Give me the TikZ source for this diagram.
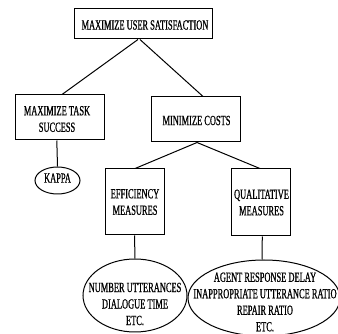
\documentclass[tikz,border=0pt]{standalone}
\usepackage{fontspec}
\setmainfont{Liberation Serif}
\newfontfamily\cond[FakeStretch=0.6,FakeBold=0.8]{Liberation Serif}
\usetikzlibrary{shapes.geometric,calc}
\tikzset{
  lbl/.style={font=\cond\fontsize{14}{16.5}\selectfont, align=center, inner sep=0pt},
  goalbox/.style={draw, line width=1pt, rectangle, inner sep=0pt},
  oval/.style={draw, line width=1pt, ellipse, inner sep=0pt},
  link/.style={line width=1pt}
}
\begin{document}
\begin{tikzpicture}[x=1pt,y=-1pt]
\useasboundingbox (0,0) rectangle (338,334);
% boxes
\node[goalbox, minimum width=138, minimum height=30] (top) at (143,24) {};
\node[lbl] (topt) at (145,25) {MAXIMIZE USER SATISFACTION};
\node[goalbox, minimum width=89, minimum height=45] (task) at (59.5,117.5) {};
\node[lbl] (taskt) at (57,119) {MAXIMIZE TASK\\SUCCESS};
\node[goalbox, minimum width=89, minimum height=45] (cost) at (195.5,119.5) {};
\node[lbl] (costt) at (196.5,120.5) {MINIMIZE COSTS};
\node[goalbox, minimum width=59, minimum height=66] (eff) at (134.5,202) {};
\node[lbl] (efft) at (135,202) {EFFICIENCY\\MEASURES};
\node[goalbox, minimum width=59, minimum height=67] (qual) at (260.5,202.5) {};
\node[lbl] (qualt) at (261.5,202.5) {QUALITATIVE\\MEASURES};
% ovals
\node[oval, minimum width=45, minimum height=27] (kappa) at (57.5,180.5) {};
\node[lbl] (kappat) at (57.5,178) {KAPPA};
\node[oval, minimum width=104, minimum height=73] (e1) at (135,295.5) {};
\node[lbl] (e1t) at (135,304) {NUMBER UTTERANCES\\DIALOGUE TIME\\ETC.};
\node[oval, minimum width=152, minimum height=76] (e2) at (264,298) {};
\node[lbl] (e2t) at (265,302) {AGENT RESPONSE DELAY\\INAPPROPRIATE UTTERANCE RATIO\\REPAIR RATIO\\ETC.};
% connectors
\draw[link] ($(top.south west)!0.464!(top.south east)$) -- ($(task.north west)!0.528!(task.north east)$);
\draw[link] ($(top.south west)!0.478!(top.south east)$) -- ($(cost.north west)!0.584!(cost.north east)$);
\draw[link] ($(task.south west)!0.47!(task.south east)$) -- (kappa.north);
\draw[link] ($(cost.south west)!0.517!(cost.south east)$) -- ($(eff.north west)!0.51!(eff.north east)$);
\draw[link] ($(cost.south west)!0.517!(cost.south east)$) -- ($(qual.north west)!0.49!(qual.north east)$);
\draw[link] ($(eff.south west)!0.5!(eff.south east)$) -- (e1.north);
\draw[link] ($(qual.south west)!0.53!(qual.south east)$) -- ($(e2.north)+(-2,0)$);
\end{tikzpicture}
\end{document}
